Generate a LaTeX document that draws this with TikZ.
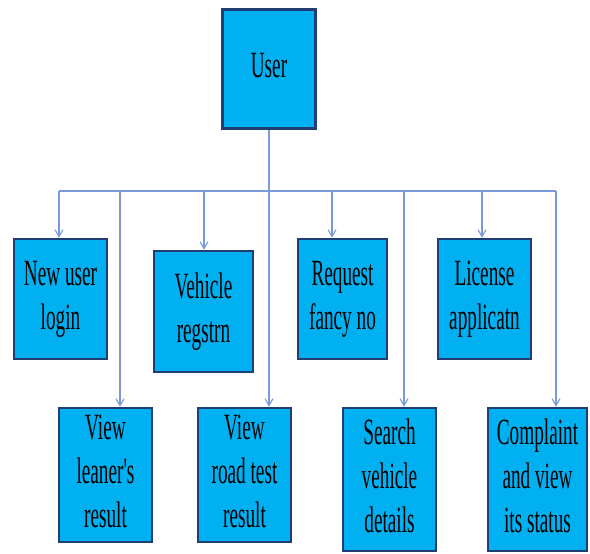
\documentclass[tikz,border=0pt]{standalone}
\usepackage{fontspec}
\setmainfont{Liberation Serif}
\usepackage{graphicx}
\usepackage{tikz}
\usetikzlibrary{arrows.meta}

\definecolor{boxfill}{HTML}{00B0F0}
\definecolor{boxline}{HTML}{203D74}
\definecolor{linkline}{HTML}{7A98DC}

% narrow, tall lettering as in the chart
\newcommand{\boxtext}[1]{\scalebox{0.52}[1]{\begin{tabular}{@{}c@{}}#1\end{tabular}}}

\begin{document}
\begin{tikzpicture}[x=1pt, y=-1pt,
  ucbox/.style={draw=boxline, line width=2.5pt, fill=boxfill, inner sep=0pt,
    minimum width=93pt, font=\fontsize{37}{44}\selectfont},
  link/.style={draw=linkline, line width=1.1pt},
  linkarrow/.style={link, -{Straight Barb[length=7pt, width=8pt]}}]

\useasboundingbox (0,0) rectangle (590,554);

\node[ucbox, minimum height=119pt] (user) at (269,69) {\boxtext{User}};

% first row
\node[ucbox, minimum height=120pt] (login) at (60.5,299) {\boxtext{New user\\login}};
\node[ucbox, minimum width=99pt, minimum height=121pt] (regstrn) at (203.5,311.5) {\boxtext{Vehicle\\regstrn}};
\node[ucbox, minimum width=89pt, minimum height=120pt] (fancy) at (342.5,299) {\boxtext{Request\\fancy no}};
\node[ucbox, minimum height=120pt] (license) at (484.5,299) {\boxtext{License\\applicatn}};

% second row
\node[ucbox, minimum height=134pt] (leaner) at (105.5,475) {\boxtext{View\\leaner\textquotesingle s\\result}};
\node[ucbox, minimum height=134pt] (roadtest) at (244.5,475) {\boxtext{View\\road test\\result}};
\node[ucbox, minimum height=143pt] (search) at (389.5,479.5) {\boxtext{Search\\vehicle\\details}};
\node[ucbox, minimum width=99pt, minimum height=143pt] (complaint) at (537.5,479.5) {\boxtext{Complaint\\and view\\its status}};

% connectors
\coordinate (busL) at (59,191);
\coordinate (busR) at (556,191);
\draw[link] (busL) -- (busR);
\draw[linkarrow] (user.south) -- (user.south |- roadtest.north);
\foreach \n/\x in {login/59, regstrn/204, fancy/332, license/482,
                   leaner/120, search/404, complaint/556} {
  \coordinate (t\n) at (\x,191);
  \draw[linkarrow] (t\n) -- (t\n |- \n.north);
}

\end{tikzpicture}
\end{document}
